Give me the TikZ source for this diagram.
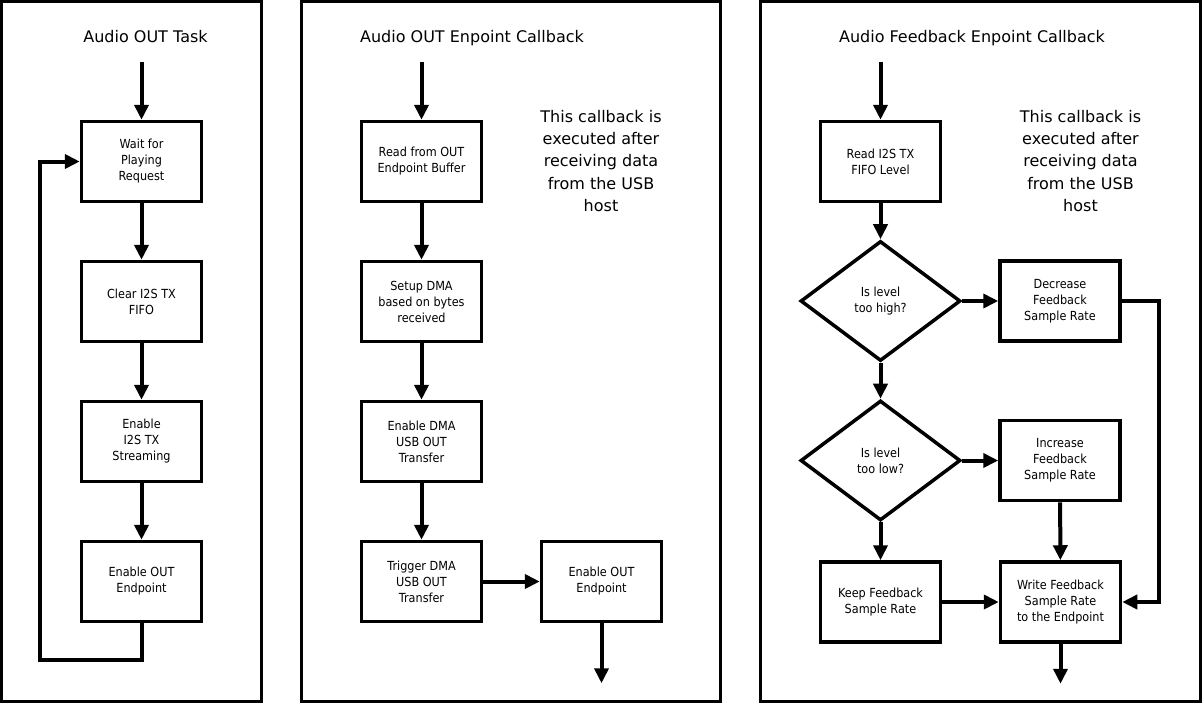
\documentclass[tikz,border=0pt]{standalone}
\usepackage{fontspec}
\setmainfont{DejaVu Sans}
\newfontfamily\boxfont{DejaVu Sans}[FakeStretch=0.9]
\usetikzlibrary{arrows.meta, positioning, shapes.geometric}

\begin{document}
\begin{tikzpicture}[
  x=1pt, y=-1pt,
  font={\fontsize{12.5}{16}\selectfont\boxfont},
  box/.style={draw, line width=3.5pt, align=center, minimum width=120pt, minimum height=80pt, inner sep=2pt},
  decision/.style={draw, diamond, line width=3.5pt, align=center, minimum width=160pt, minimum height=120pt, inner sep=0pt},
  arrow/.style={-{Triangle[length=15pt,width=14pt]}, line width=4pt},
  panel/.style={draw, line width=3pt},
  title/.style={anchor=base, font={\fontsize{16}{20}\selectfont}},
  note/.style={align=center, inner sep=0pt, font={\fontsize{16}{22.2}\selectfont}}
]
\useasboundingbox (0,0) rectangle (1204,704);
\draw[panel] (1.5,1.5) rectangle (261.5,701.5);
\draw[panel] (301.5,1.5) rectangle (720.5,701.5);
\draw[panel] (760.5,1.5) rectangle (1200.5,701.5);

\node[title] (t1) at (145.5,42) {Audio OUT Task};
\node[title] (t2) at (472,42) {Audio OUT Enpoint Callback};
\node[title] (t3) at (972,42) {Audio Feedback Enpoint Callback};

\node[note] (n2) at (601,161) {This callback is\\executed after\\receiving data\\from the USB\\host};
\node[note] (n3) at (1080.5,161) {This callback is\\executed after\\receiving data\\from the USB\\host};

% audio out task
\node[box] (wait) at (141.5,161.5) {Wait for\\Playing\\Request};
\node[box, below=56.5pt of wait] (clear) {Clear I2S TX\\FIFO};
\node[box, below=56.5pt of clear] (stream) {Enable\\I2S TX\\Streaming};
\node[box, below=56.5pt of stream] (epout) {Enable OUT\\Endpoint};
\coordinate[above=58pt of wait] (in1);

\draw[arrow] (in1) -- (wait);
\draw[arrow] (wait) -- (clear);
\draw[arrow] (clear) -- (stream);
\draw[arrow] (stream) -- (epout);
\draw[arrow] (epout.south) -- ++(0,37) -| ([xshift=-40pt]wait.west) -- (wait.west);

% audio out endpoint callback
\node[box] (readbuf) at (421.5,161.5) {Read from OUT\\Endpoint Buffer};
\node[box, below=56.5pt of readbuf] (setup) {Setup DMA\\based on bytes\\received};
\node[box, below=56.5pt of setup] (dmaen) {Enable DMA\\USB OUT\\Transfer};
\node[box, below=56.5pt of dmaen] (trigger) {Trigger DMA\\USB OUT\\Transfer};
\node[box, right=56.5pt of trigger] (epout2) {Enable OUT\\Endpoint};
\coordinate[above=58pt of readbuf] (in2);
\coordinate[below=60pt of epout2] (out2);

\draw[arrow] (in2) -- (readbuf);
\draw[arrow] (readbuf) -- (setup);
\draw[arrow] (setup) -- (dmaen);
\draw[arrow] (dmaen) -- (trigger);
\draw[arrow] (trigger) -- (epout2);
\draw[arrow] (epout2) -- (out2);

% audio feedback endpoint callback
\node[box] (level) at (880.5,161.5) {Read I2S TX\\FIFO Level};
\node[decision, below=36pt of level] (high) {Is level\\too high?};
\node[decision, below=36pt of high] (low) {Is level\\too low?};
\node[box, right=36pt of high] (dec) {Decrease\\Feedback\\Sample Rate};
\node[box, right=36pt of low] (inc) {Increase\\Feedback\\Sample Rate};
\node[box, below=38pt of low] (keep) {Keep Feedback\\Sample Rate};
\node[box, right=56.5pt of keep] (write) {Write Feedback\\Sample Rate\\to the Endpoint};
\coordinate[above=58pt of level] (in3);
\coordinate[below=40pt of write] (out3);

\draw[arrow] (in3) -- (level);
\draw[arrow] (level) -- (high);
\draw[arrow] (high) -- (dec);
\draw[arrow] (high) -- (low);
\draw[arrow] (low) -- (inc);
\draw[arrow] (low) -- (keep);
\draw[arrow] (inc) -- (write);
\draw[arrow] (keep) -- (write);
\draw[arrow] (dec.east) -- ++(37,0) |- (write.east);
\draw[arrow] (write) -- (out3);
\end{tikzpicture}
\end{document}
